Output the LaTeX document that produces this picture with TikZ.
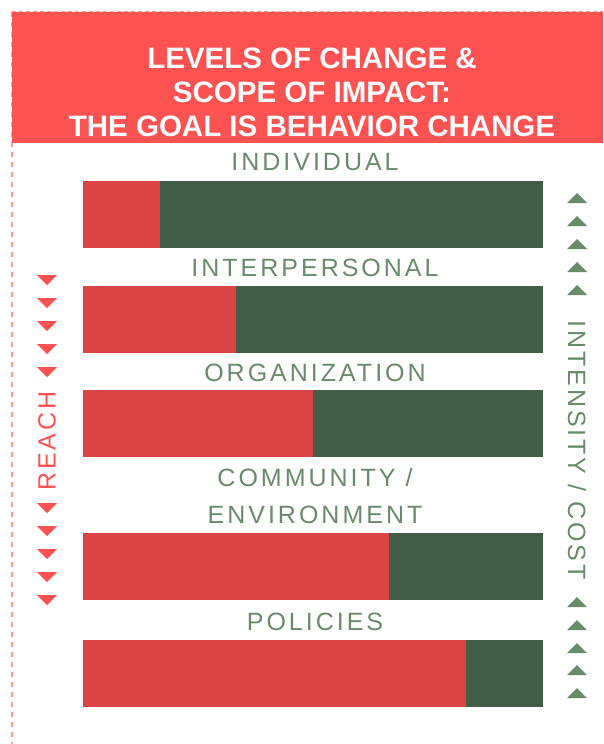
\documentclass[tikz,border=0pt]{standalone}
\usepackage{fontspec}
\setmainfont{Liberation Sans}
\newfontfamily\lblfont[LetterSpace=12]{Liberation Sans}

\definecolor{headred}{RGB}{253,82,82}
\definecolor{framepink}{RGB}{255,150,150}
\definecolor{barred}{RGB}{218,68,68}
\definecolor{bargreen}{RGB}{66,94,72}
\definecolor{lblgreen}{RGB}{106,138,108}

\tikzset{
	level/.style={text=lblgreen, font=\lblfont\fontsize{25}{30}\selectfont, inner sep=0pt},
	side/.style={font=\lblfont\fontsize{25}{30}\selectfont, inner sep=0pt},
}

\begin{document}
\begin{tikzpicture}[x=1pt,y=-1pt]
	\useasboundingbox (0,0) rectangle (603,744);

	% Rahmen und Titel
	\draw[framepink, dash pattern=on 4pt off 3pt](12,11.5)--(603,11.5);
	\draw[framepink, dash pattern=on 5pt off 5pt, line width=1.2pt](12,12)--(12,744);
	\fill[headred](12,12) rectangle (603,143);
	\node[text=white, font=\bfseries\fontsize{29.5}{34}\selectfont, align=center] (title) at (312,92)
		{LEVELS OF CHANGE \&\\SCOPE OF IMPACT:\\THE GOAL IS BEHAVIOR CHANGE};

	% Balken
	\foreach \t/\s in {181/160, 286/236, 390/313, 533/389, 640/466} {{
	     \fill[barred](83,\t) rectangle (\s,\t+67);
	     \fill[bargreen](\s,\t) rectangle (543,\t+67);
	}}

	% Ebenen
	\node[level] (individual) at (315,162) {INDIVIDUAL};
	\node[level] (interpersonal) at (315,268) {INTERPERSONAL};
	\node[level] (organization) at (315,373) {ORGANIZATION};
	\node[level] (community) at (315,478) {COMMUNITY /};
	\node[level] (environment) at (315,515) {ENVIRONMENT};
	\node[level] (policies) at (315,622) {POLICIES};

	% Reichweite
	\foreach \y in {280,303,326,349,372,508,531,554,577,600} {{
	     \fill[headred](37,\y-5) -- (57,\y-5) -- (47,\y+5) -- cycle;
	}}
	\node[side, text=headred, rotate=90] (reach) at (47,441) {REACH};

	% Intensitaet
	\foreach \y in {198,221,244,267,290,602,625,648,670,693} {{
	     \fill[lblgreen](567,\y+5) -- (587,\y+5) -- (577,\y-5) -- cycle;
	}}
	\node[side, text=lblgreen, rotate=-90] (intensity) at (577,450) {INTENSITY / COST};
\end{tikzpicture}
\end{document}
